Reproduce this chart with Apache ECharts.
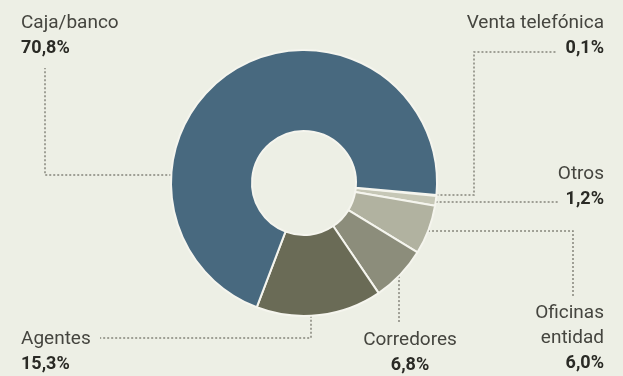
<!DOCTYPE html>
<html>
<head>
<meta charset="utf-8">
<script src="https://cdn.jsdelivr.net/npm/echarts@6/dist/echarts.min.js"></script>
<style>
  html, body { margin: 0; padding: 0; background: #edefe5; }
  #chart { width: 623px; height: 376px; }
</style>
</head>
<body>
<div id="chart"></div>
<script>
// Data (clockwise from just below 3 o'clock)
const categories = ["Venta telefónica", "Otros", "Oficinas entidad", "Corredores", "Agentes", "Caja/banco"];
const labelNames = ["Venta telefónica", "Otros", "Oficinas\nentidad", "Corredores", "Agentes", "Caja/banco"];
const shares = [0.1, 1.2, 6.0, 6.8, 15.3, 70.8];
const shareLabels = ["0,1%", "1,2%", "6,0%", "6,8%", "15,3%", "70,8%"];

const colors = ["#e6e7db", "#c6c7b6", "#b1b2a0", "#8c8d7b", "#6a6b56", "#48697f"];

// pie geometry (px)
const CX = 304, CY = 183, R_IN = 52, R_OUT = 133;

// point on outer edge, hit by a horizontal (y) or vertical (x) leader
function edgeAtY(y, side) {
  const dy = y - CY;
  return [CX + side * Math.sqrt(R_OUT * R_OUT - dy * dy), y];
}
function edgeAtX(x) {
  const dx = x - CX;
  return [x, CY + Math.sqrt(R_OUT * R_OUT - dx * dx)];
}

// label placement + leader routes
const labelPlaces = [
  { x: 604, y: 11, align: "right", line: [edgeAtY(195, 1), [474, 195], [474, 52], [557, 52]] },
  { x: 604, y: 162, align: "right", line: [edgeAtY(202, 1), [558, 202]] },
  { x: 604, y: 301, align: "right", line: [edgeAtY(231, 1), [573, 231], [573, 298]] },
  { x: 410, y: 328, align: "center", line: [edgeAtX(399), [399, 322]] },
  { x: 21, y: 327, align: "left", line: [edgeAtX(311), [311, 338], [100, 338]] },
  { x: 21, y: 11, align: "left", line: [edgeAtY(175, -1), [45, 175], [45, 68]] },
];

const chart = echarts.init(document.getElementById("chart"), null, { renderer: "canvas" });

chart.setOption({
  backgroundColor: "#edefe5",
  animation: false,
  series: [
    {
      type: "pie",
      center: [CX, CY],
      radius: [R_IN, R_OUT],
      startAngle: -5.2,
      clockwise: true,
      avoidLabelOverlap: false,
      data: categories.map((c, i) => ({
        name: c,
        value: shares[i],
        itemStyle: { color: colors[i] },
      })),
      itemStyle: {
        borderColor: "#f5f5ee",
        borderWidth: 2,
      },
      label: {
        show: true,
        position: "outside",
        formatter: (p) => {
          const i = p.dataIndex;
          return labelNames[i].split("\n").map((s) => "{n|" + s + "}").join("\n") +
            "\n{v|" + shareLabels[i] + "}";
        },
        rich: {
          n: { fontFamily: "Roboto", fontSize: 19, lineHeight: 25, color: "#45453f" },
          v: { fontFamily: "Roboto", fontSize: 18, fontWeight: "bold", lineHeight: 25, color: "#2a2a25" },
        },
      },
      labelLine: {
        show: true,
        lineStyle: { color: "#85857b", width: 1.5, type: [2, 2] },
      },
      labelLayout: (params) => {
        const p = labelPlaces[params.dataIndex];
        return {
          x: p.x,
          y: p.y,
          align: p.align,
          verticalAlign: "top",
          labelLinePoints: p.line,
        };
      },
      emphasis: { disabled: true },
    },
  ],
});
</script>
</body>
</html>
